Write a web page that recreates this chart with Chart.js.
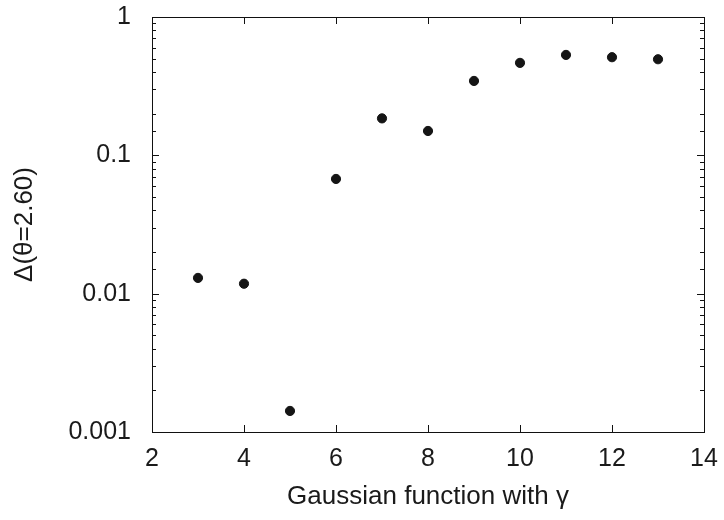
<!DOCTYPE html>
<html>
<head>
<meta charset="utf-8">
<script src="https://cdn.jsdelivr.net/npm/chart.js@4"></script>
<style>
  html, body { margin: 0; padding: 0; background: #fff; }
  #wrap { width: 724px; height: 520px; }
</style>
</head>
<body>
<div id="wrap"><canvas id="gaussDelta"></canvas></div>
<script>
var gammaValues = [3, 4, 5, 6, 7, 8, 9, 10, 11, 12, 13];
var deltaValues = [0.0130, 0.0118, 0.00142, 0.0675, 0.185, 0.150, 0.345, 0.466, 0.532, 0.512, 0.495];
var yTickLabels = ['0.001', '0.01', '0.1', '1'];

Chart.defaults.font.family = 'Liberation Sans';
Chart.defaults.color = '#1a1a1a';

// frame + inward ticks, gnuplot style
var frameTicks = {
    id: 'frameTicks',
    afterDraw: function(chart) {
        var ctx = chart.ctx;
        var a = chart.chartArea;
        var xs = chart.scales.x, ys = chart.scales.y;
        ctx.save();
        ctx.strokeStyle = '#111';
        ctx.lineWidth = 1;
        ctx.beginPath();
        xs.ticks.forEach(function(t) {
            var px = Math.round(xs.getPixelForValue(t.value)) + 0.5;
            ctx.moveTo(px, a.bottom); ctx.lineTo(px, a.bottom - 7);
            ctx.moveTo(px, a.top); ctx.lineTo(px, a.top + 7);
        });
        ys.ticks.forEach(function(t) {
            var py = Math.round(ys.getPixelForValue(t.value)) + 0.5;
            var lg = Math.log10(t.value);
            var len = Math.abs(lg - Math.round(lg)) < 1e-6 ? 7 : 4;
            ctx.moveTo(a.left, py); ctx.lineTo(a.left + len, py);
            ctx.moveTo(a.right, py); ctx.lineTo(a.right - len, py);
        });
        ctx.stroke();
        ctx.strokeRect(Math.round(a.left) + 0.5, Math.round(a.top) + 0.5,
            Math.round(a.right - a.left), Math.round(a.bottom - a.top));
        ctx.restore();
    }
};

var ctx = document.getElementById('gaussDelta');
var myChart = new Chart(ctx, {
    type: 'scatter',
    plugins: [frameTicks],
    data: {
        datasets: [{
            label: 'Delta',
            data: gammaValues.map(function(g, i) { return { x: g, y: deltaValues[i] }; }),
            backgroundColor: '#151515',
            borderColor: '#151515',
            pointRadius: 4.6,
            pointHoverRadius: 4.6,
        }]
    },
    options: {
        responsive: true,
        maintainAspectRatio: false,
        animation: false,
        layout: {
            padding: { top: 17, right: 20, left: 0, bottom: 0 }
        },
        plugins: {
            legend: { display: false },
            tooltip: { enabled: false },
        },
        scales: {
            x: {
                type: 'linear',
                min: 2,
                max: 14,
                grid: { display: false, drawTicks: false },
                border: { display: false },
                ticks: {
                    stepSize: 2,
                    padding: 12,
                    font: { size: 25 },
                },
                title: {
                    display: true,
                    text: 'Gaussian function with γ',
                    font: { size: 26 },
                    padding: { top: 0, bottom: 8 },
                },
                afterFit: function(scale) {
                    scale.height = 88;
                    scale.paddingLeft = 0;
                    scale.paddingRight = 0;
                },
            },
            y: {
                type: 'logarithmic',
                min: 0.001,
                max: 1,
                grid: { display: false, drawTicks: false },
                border: { display: false },
                ticks: {
                    padding: 21,
                    autoSkip: false,
                    font: { size: 25 },
                    callback: function(value) {
                        var lg = Math.log10(value);
                        if (Math.abs(lg - Math.round(lg)) < 1e-6) {
                            return yTickLabels[Math.round(lg) + 3];
                        }
                        return '';
                    }
                },
                title: {
                    display: true,
                    text: 'Δ(θ=2.60)',
                    font: { size: 26 },
                    padding: { top: 9, bottom: 0 },
                },
                afterFit: function(scale) {
                    scale.width = 152;
                    scale.paddingTop = 0;
                    scale.paddingBottom = 0;
                },
            },
        },
    },
});
</script>
</body>
</html>
